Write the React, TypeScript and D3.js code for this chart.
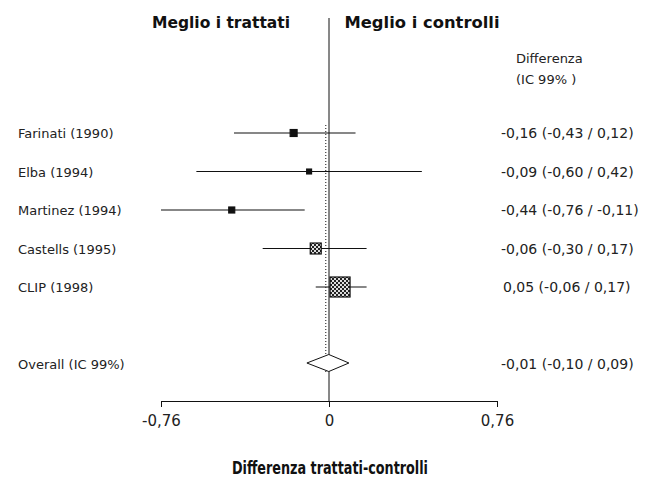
import { useEffect, useRef } from "react";
import * as d3 from "d3";

// studi e stime (differenza trattati-controlli, IC 99%)
const studi = ["Farinati (1990)", "Elba (1994)", "Martinez (1994)", "Castells (1995)", "CLIP (1998)"];
const stime = [-0.16, -0.09, -0.44, -0.06, 0.05];
const inferiori = [-0.43, -0.6, -0.76, -0.3, -0.06];
const superiori = [0.12, 0.42, -0.11, 0.17, 0.17];
const pesi = [12, 6, 9, 30, 100];

const overallLabel = "Overall (IC 99%)";
const overall = { stima: -0.01, inf: -0.1, sup: 0.09 };

const tickValori = [-0.76, 0, 0.76];
const tickEtichette = ["-0,76", "0", "0,76"];

const FONT = "'DejaVu Sans', Verdana, sans-serif";

// virgola decimale e trattino normale al posto del segno meno unicode
const fmt = (v: number) => d3.format(".2f")(v).replace(".", ",").replace("\u2212", "-");

const App = () => {
  const svgRef = useRef<SVGSVGElement>(null);

  useEffect(() => {
    const width = 670;
    const height = 479;

    const svg = d3.select(svgRef.current);
    svg.selectAll("*").remove();
    svg.attr("width", width).attr("height", height);

    // pattern per i quadrati grandi
    const defs = svg.append("defs");
    const pat = defs
      .append("pattern")
      .attr("id", "retino")
      .attr("width", 4)
      .attr("height", 4)
      .attr("patternUnits", "userSpaceOnUse");
    pat.append("rect").attr("width", 4).attr("height", 4).attr("fill", "#222");
    pat.append("rect").attr("x", 0).attr("y", 0).attr("width", 2).attr("height", 2).attr("fill", "#ddd");
    pat.append("rect").attr("x", 2).attr("y", 2).attr("width", 2).attr("height", 2).attr("fill", "#ddd");

    // scale
    const x = d3.scaleLinear().domain([-0.76, 0.76]).range([161, 497]);
    const y = d3.scaleLinear().domain([0, 6]).range([133, 364]);
    const size = d3.scaleSqrt().domain([0, 100]).range([0, 20]);

    const axisY = 401;

    const boldText = (tx: number, ty: number, len: number, fs: number, s: string) =>
      svg
        .append("text")
        .attr("x", tx)
        .attr("y", ty)
        .attr("text-anchor", "middle")
        .attr("font-family", FONT)
        .attr("font-weight", "bold")
        .attr("font-size", fs)
        .attr("textLength", len)
        .attr("lengthAdjust", "spacingAndGlyphs")
        .attr("fill", "#111")
        .text(s);

    // titoli in alto
    boldText(221, 28, 138, 16, "Meglio i trattati");
    boldText(422, 28, 155, 16, "Meglio i controlli");

    // intestazione colonna destra
    svg
      .append("text")
      .attr("x", 516)
      .attr("y", 63)
      .attr("font-family", FONT)
      .attr("font-size", 13)
      .attr("fill", "#222")
      .text("Differenza");
    svg
      .append("text")
      .attr("x", 516)
      .attr("y", 84)
      .attr("font-family", FONT)
      .attr("font-size", 13)
      .attr("fill", "#222")
      .text("(IC 99% )");

    // linea verticale dello zero
    svg
      .append("line")
      .attr("x1", x(0))
      .attr("x2", x(0))
      .attr("y1", 18)
      .attr("y2", axisY)
      .attr("stroke", "#111")
      .attr("stroke-width", 1);

    // linea tratteggiata della stima complessiva
    svg
      .append("line")
      .attr("x1", x(overall.stima) - 1)
      .attr("x2", x(overall.stima) - 1)
      .attr("y1", 125)
      .attr("y2", y(6) + 8)
      .attr("stroke", "#111")
      .attr("stroke-width", 1)
      .attr("stroke-dasharray", "1,2");

    const righe = studi.map((s, i) => ({
      studio: s,
      stima: stime[i],
      inf: inferiori[i],
      sup: superiori[i],
      peso: pesi[i],
      i,
    }));

    const g = svg.append("g");

    // intervalli di confidenza
    g.selectAll(".ci")
      .data(righe)
      .enter()
      .append("line")
      .attr("x1", (d) => x(d.inf))
      .attr("x2", (d) => x(d.sup))
      .attr("y1", (d) => y(d.i))
      .attr("y2", (d) => y(d.i))
      .attr("stroke", "#111")
      .attr("stroke-width", 1.2);

    // quadrati
    g.selectAll(".box")
      .data(righe)
      .enter()
      .append("rect")
      .attr("x", (d) => x(d.stima) - size(d.peso) / 2)
      .attr("y", (d) => y(d.i) - size(d.peso) / 2)
      .attr("width", (d) => size(d.peso))
      .attr("height", (d) => size(d.peso))
      .attr("fill", (d) => (d.peso >= 30 ? "url(#retino)" : "#111"))
      .attr("stroke", "#111")
      .attr("stroke-width", 1.2);

    // etichette a sinistra
    g.selectAll(".lab")
      .data(righe)
      .enter()
      .append("text")
      .attr("x", 18)
      .attr("y", (d) => y(d.i) + 5)
      .attr("font-family", FONT)
      .attr("font-size", 13)
      .attr("fill", "#222")
      .text((d) => d.studio);

    // valori a destra
    g.selectAll(".val")
      .data(righe)
      .enter()
      .append("text")
      .attr("x", (d) => (d.stima < 0 ? 501 : 503))
      .attr("y", (d) => y(d.i) + 5)
      .attr("font-family", FONT)
      .attr("font-size", 14)
      .attr("fill", "#222")
      .text((d) => `${fmt(d.stima)} (${fmt(d.inf)} / ${fmt(d.sup)})`);

    // diamante complessivo
    const yo = y(6) - 1;
    const hd = 8.5;
    svg
      .append("path")
      .attr(
        "d",
        `M${x(overall.inf)},${yo} L${x(overall.stima) + 2},${yo - hd} L${x(overall.sup)},${yo} L${x(overall.stima) + 2},${yo + hd} Z`
      )
      .attr("fill", "white")
      .attr("stroke", "#111")
      .attr("stroke-width", 1);
    svg
      .append("text")
      .attr("x", 18)
      .attr("y", y(6) + 5)
      .attr("font-family", FONT)
      .attr("font-size", 13)
      .attr("fill", "#222")
      .text(overallLabel);
    svg
      .append("text")
      .attr("x", 501)
      .attr("y", y(6) + 5)
      .attr("font-family", FONT)
      .attr("font-size", 14)
      .attr("fill", "#222")
      .text(`${fmt(overall.stima)} (${fmt(overall.inf)} / ${fmt(overall.sup)})`);

    // asse x
    const axis = svg
      .append("g")
      .attr("transform", `translate(0,${axisY})`)
      .call(
        d3
          .axisBottom(x)
          .tickValues(tickValori)
          .tickFormat((_, i) => tickEtichette[i])
          .tickSize(6)
          .tickSizeOuter(0)
      );
    axis.select(".domain").attr("stroke", "#111");
    axis.selectAll("line").attr("stroke", "#111");
    axis
      .selectAll("text")
      .attr("font-family", FONT)
      .attr("font-size", 15)
      .attr("fill", "#222")
      .attr("dy", "1.05em");

    // titolo asse
    boldText(330, 474, 196, 17, "Differenza trattati-controlli");
  }, []);

  return <svg ref={svgRef} style={{ display: "block", position: "absolute", left: 0, top: 0 }}></svg>;
};

export default App;
